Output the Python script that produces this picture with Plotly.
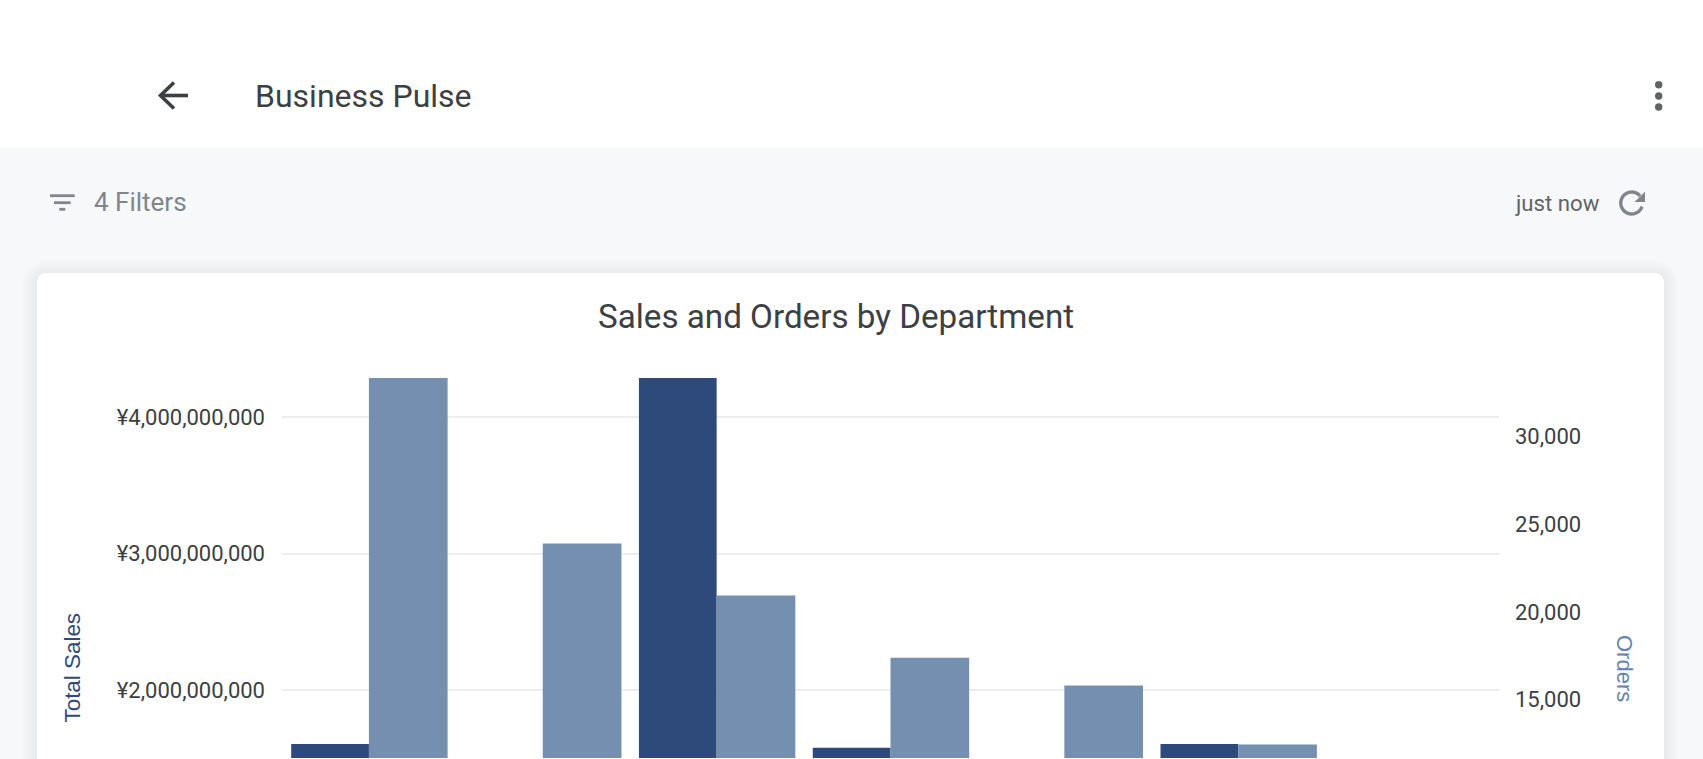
import math
import plotly.graph_objects as go

W, H = 1703, 759

# x labels sit below the fold in the reference, so these names are never shown
departments = ['Dept 1', 'Dept 2', 'Dept 3', 'Dept 4', 'Dept 5', 'Dept 6', 'Dept 7']
# None = bar too short to reach the visible part of the chart
total_sales = [1.604e9, None, 4.288e9, 1.577e9, None, 1.604e9, None]
orders = [33340, 23900, 20940, 17390, 15810, 12450, None]

sales_ticks = [2000000000, 3000000000, 4000000000]
sales_tick_labels = ['¥2,000,000,000', '¥3,000,000,000', '¥4,000,000,000']
order_ticks = [15000, 20000, 25000, 30000]

DARK = '#2e4a7a'
LIGHT = '#758fb0'
INK = '#3c4043'
GREY = '#80868b'


def px(x):
    return x / W


def py(y):
    return 1 - y / H


def path_of(points, close=False):
    d = 'M ' + ' L '.join(f'{px(x):.5f},{py(y):.5f}' for x, y in points)
    return d + (' Z' if close else '')


def round_rect(x0, y0, x1, y1, r):
    pts = []
    corners = [(x1 - r, y0 + r, -90), (x1 - r, y1 - r, 0), (x0 + r, y1 - r, 90), (x0 + r, y0 + r, 180)]
    for cx, cy, start in corners:
        for i in range(7):
            a = math.radians(start + i * 15)
            pts.append((cx + r * math.cos(a), cy + r * math.sin(a)))
    return path_of(pts, close=True)


def rect(x0, y0, x1, y1, color):
    return dict(type='rect', xref='paper', yref='paper', x0=px(x0), x1=px(x1), y0=py(y1), y1=py(y0),
                fillcolor=color, line_width=0, layer='below')


def stroke(points, color, width):
    return dict(type='path', xref='paper', yref='paper', path=path_of(points),
                line=dict(color=color, width=width), layer='above')


def dot(x, y, r, color):
    return dict(type='circle', xref='paper', yref='paper', x0=px(x - r), x1=px(x + r), y0=py(y + r), y1=py(y - r),
                fillcolor=color, line_width=0, layer='above')


shapes = [rect(0, 0, W, 147.5, '#ffffff')]

# card shadow, then the card
for grow in range(14, 0, -2):
    shapes.append(dict(type='path', xref='paper', yref='paper',
                       path=round_rect(37 - grow, 273 - grow + 2, 1664 + grow, 800, 9 + grow),
                       fillcolor='rgba(60,64,67,0.011)', line_width=0, layer='below'))
shapes.append(dict(type='path', xref='paper', yref='paper', path=round_rect(37, 273, 1664, 800, 9),
                   fillcolor='#ffffff', line_width=0, layer='below'))

# back arrow
shapes.append(stroke([(161, 95.5), (188, 95.5)], INK, 3.6))
shapes.append(stroke([(174, 82.5), (160.5, 95.5), (174, 108.5)], INK, 3.6))

# filter icon
shapes.append(stroke([(50, 195.7), (74.7, 195.7)], GREY, 2.8))
shapes.append(stroke([(54, 202.7), (70.7, 202.7)], GREY, 2.8))
shapes.append(stroke([(59.3, 209.3), (65.3, 209.3)], GREY, 2.8))

# kebab menu
shapes.append(dot(1658.7, 84.7, 3.7, '#5f6368'))
shapes.append(dot(1658.7, 96, 3.7, '#5f6368'))
shapes.append(dot(1658.7, 107, 3.7, '#5f6368'))

# refresh icon
arc = []
for deg in range(-40, -345, -15):
    a = math.radians(deg)
    arc.append((1631.7 + 11 * math.cos(a), 203 + 11 * math.sin(a)))
shapes.append(stroke(arc, GREY, 3.4))
shapes.append(dict(type='path', xref='paper', yref='paper',
                   path=path_of([(1645, 191.7), (1645, 202), (1634.5, 202)], close=True),
                   fillcolor=GREY, line_width=0, layer='above'))

fig = go.Figure()
fig.add_trace(go.Bar(x=departments, y=total_sales, name='Total Sales', marker_color=DARK,
                     marker_line_width=0, width=0.447, offset=-0.447, yaxis='y'))
fig.add_trace(go.Bar(x=departments, y=orders, name='Orders', marker_color=LIGHT,
                     marker_line_width=0, width=0.4525, offset=0, yaxis='y2'))


def note(text, x, y, size, color, anchor='left', angle=0, family='Roboto'):
    return dict(text=text, xref='paper', yref='paper', x=px(x), y=py(y), xanchor=anchor, yanchor='middle',
                showarrow=False, textangle=angle, font=dict(family=family, size=size, color=color))


annotations = [
    note('Business Pulse', 253, 95.5, 32, INK),
    note('4 Filters', 92, 202, 26, GREY),
    note('just now', 1513, 203, 22.2, '#5f6368'),
    note('Sales and Orders by Department', 836, 316, 33.2, INK, anchor='center'),
    note('Total Sales', 71.5, 668, 22.4, DARK, anchor='center', angle=-90, family='Liberation Sans'),
    note('Orders', 1625, 668, 22, '#6384b3', anchor='center', angle=90, family='Liberation Sans'),
]

fig.update_layout(
    width=W, height=H,
    margin=dict(l=0, r=0, t=0, b=0),
    paper_bgcolor='#f7f8fa',
    plot_bgcolor='rgba(0,0,0,0)',
    showlegend=False,
    barmode='overlay',
    font=dict(family='Roboto', color=INK, size=20),
    shapes=shapes,
    annotations=annotations,
    xaxis=dict(domain=[px(282), px(1499)], type='category', range=[-0.5, 6.5], showticklabels=False,
               showgrid=False, zeroline=False, showline=False, ticks=''),
    yaxis=dict(domain=[py(758), py(378)], range=[1.501e9, 4.288e9], tickvals=sales_ticks,
               ticktext=sales_tick_labels, showgrid=True, gridcolor='#eeeef0', gridwidth=2, zeroline=False,
               showline=False, ticks='', ticklabelstandoff=16, tickfont=dict(size=22, color=INK)),
    yaxis2=dict(overlaying='y', side='right', anchor='x', range=[11674, 33340], tickvals=order_ticks,
                tickformat=',d', showgrid=False, zeroline=False, showline=False, ticks='',
                ticklabelstandoff=15, tickfont=dict(size=22, color=INK)),
)

fig.write_html("out.html", config=dict(displayModeBar=False),
               post_script="document.body.style.margin='0';document.body.style.overflow='hidden';")
